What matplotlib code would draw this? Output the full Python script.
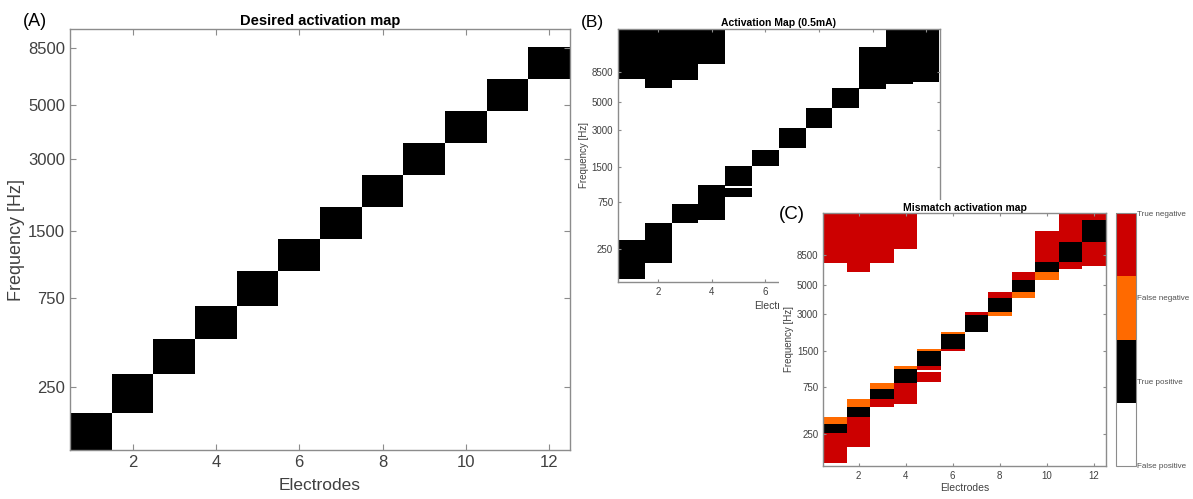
import numpy as np
import matplotlib
matplotlib.use('Agg')
import matplotlib.pyplot as plt
from matplotlib.colors import ListedColormap, Normalize
from matplotlib.cm import ScalarMappable

plt.rcParams['font.family'] = ['Liberation Sans', 'DejaVu Sans']

# frequency axis is drawn in cochlear place units (% of length, Greenwood map)
freq_ticks = [250, 750, 1500, 3000, 5000, 8500]
electrode_ticks = [2, 4, 6, 8, 10, 12]

# (A) desired band edges, one band per electrode 1..12
desired_edges = [6.2, 13.2, 20.5, 27.2, 33.4, 39.9, 45.9, 52.0, 58.0, 64.0, 70.0, 76.1, 82.1]

# (B) activated regions at 0.5 mA
act_elec = [1, 1, 2, 2, 3, 3, 4, 4, 5, 5, 6, 7, 8, 9, 10, 11, 12]
act_low = [7.4, 79.1, 13.2, 76.1, 27.4, 78.8, 28.5, 84.5, 36.7, 40.8, 48.0, 54.5, 61.8, 68.7, 75.6, 77.4, 78.2]
act_high = [21.4, 97.2, 27.6, 97.2, 34.2, 97.2, 41.1, 97.2, 39.9, 47.9, 53.9, 61.8, 68.9, 76.1, 90.8, 97.2, 97.2]

# (C) mismatch: 0 false positive, 1 true positive, 2 false negative, 3 true negative
mis_elec = [1, 1, 1, 1, 2, 2, 2, 2, 3, 3, 3, 3, 4, 4, 4, 4,
            5, 5, 5, 5, 6, 6, 6, 7, 7, 8, 8, 8, 9, 9, 9,
            10, 10, 10, 11, 11, 11, 12, 12, 12]
mis_low = [7.8, 18.4, 21.6, 79.1, 13.4, 24.3, 27.6, 75.9, 27.6, 30.5, 34.3, 78.9, 28.8, 36.4, 41.2, 84.1,
           36.7, 40.9, 42.3, 47.7, 47.8, 48.4, 53.7, 54.4, 60.4, 60.2, 61.7, 66.6, 66.6, 68.6, 72.9,
           72.9, 75.7, 79.3, 76.9, 79.4, 86.6, 78.0, 86.6, 94.3]
mis_high = [18.4, 21.6, 24.3, 96.7, 24.3, 27.6, 30.5, 96.7, 30.5, 34.3, 36.4, 96.7, 36.4, 41.2, 42.4, 96.7,
            40.2, 42.3, 47.7, 48.4, 48.4, 53.7, 54.4, 60.4, 61.5, 61.7, 66.6, 68.6, 68.6, 72.9, 75.8,
            75.7, 79.3, 90.4, 79.4, 86.6, 96.7, 86.6, 94.3, 96.7]
mis_class = [3, 1, 2, 3, 3, 1, 2, 3, 3, 1, 2, 3, 3, 1, 2, 3,
             3, 3, 1, 2, 3, 1, 2, 1, 3, 2, 1, 3, 2, 1, 3,
             2, 1, 3, 3, 1, 3, 3, 1, 3]
class_names = ['False positive', 'True positive', 'False negative', 'True negative']


def place(f):
    return 100 * np.log10(np.asarray(f) / 165.4 + 0.88) / 2.1


def style(ax, ylim, fs, ticklen):
    ax.set_xlim(0.5, 12.5)
    ax.set_ylim(*ylim)
    ax.set_xticks(electrode_ticks)
    ax.set_yticks(place(freq_ticks))
    ax.set_yticklabels([str(f) for f in freq_ticks])
    ax.tick_params(direction='in', top=True, right=True, labelsize=fs,
                   colors='#8c8c8c', labelcolor='#404040', length=ticklen, width=0.8)
    for s in ax.spines.values():
        s.set_color('#8c8c8c')
        s.set_linewidth(1.0)


fig = plt.figure(figsize=(11.93, 4.99), dpi=100)
W, H = 1193, 499


def box(l, t, r, b):
    return [l / W, 1 - b / H, (r - l) / W, (b - t) / H]


# ---- (A)
axA = fig.add_axes(box(70, 29.3, 570, 450.3))
axA.bar(np.arange(1, 13), np.diff(desired_edges), bottom=desired_edges[:-1], width=1,
        color='black', linewidth=0)
style(axA, (6.2, 85.4), 12, 4)
axA.set_title('Desired activation map', fontsize=10.5, fontweight='bold', pad=3)
axA.set_xlabel('Electrodes', fontsize=12.5, color='#404040', labelpad=6)
axA.set_ylabel('Frequency [Hz]', fontsize=13, color='#404040', labelpad=2)
fig.text(23 / W, 1 - 26 / H, '(A)', fontsize=13, va='baseline')

# ---- (B)
axB = fig.add_axes(box(618, 29, 939.5, 281.7), zorder=1)
axB.bar(act_elec, np.subtract(act_high, act_low), bottom=act_low, width=1,
        color='black', linewidth=0)
style(axB, (6.4, 97.2), 7, 2.5)
axB.set_title('Activation Map (0.5mA)', fontsize=7.5, fontweight='bold', pad=2)
axB.set_xlabel('Electrodes', fontsize=7.5, color='#404040', labelpad=3)
axB.set_ylabel('Frequency [Hz]', fontsize=7, color='#404040', labelpad=2)
fig.text(581 / W, 1 - 27 / H, '(B)', fontsize=12.5, va='baseline')

# white backdrop of the (C) inset
cover = fig.add_axes(box(779, 200, W, H), zorder=2)
cover.set_facecolor('white')
cover.set_xticks([])
cover.set_yticks([])
for s in cover.spines.values():
    s.set_visible(False)

# ---- (C)
colors = ['white', 'black', '#ff6a00', '#cc0000']
cmap = ListedColormap(colors)
norm = Normalize(0, 3)
axC = fig.add_axes(box(823.3, 213.3, 1105.7, 465.7), zorder=3)
axC.bar(mis_elec, np.subtract(mis_high, mis_low), bottom=mis_low, width=1,
        color=cmap(norm(np.array(mis_class))), linewidth=0)
style(axC, (6.85, 96.7), 7, 2.5)
axC.set_title('Mismatch activation map', fontsize=7.5, fontweight='bold', pad=2)
axC.set_xlabel('Electrodes', fontsize=7.5, color='#404040', labelpad=2)
axC.set_ylabel('Frequency [Hz]', fontsize=7, color='#404040', labelpad=2)
fig.text(779 / W, 1 - 219 / H, '(C)', fontsize=13.5, va='baseline', zorder=6)

cax = fig.add_axes(box(1116, 213.3, 1135.7, 465.7), zorder=3)
cb = fig.colorbar(ScalarMappable(norm=norm, cmap=cmap), cax=cax, ticks=[0, 1, 2, 3])
cb.ax.set_yticklabels(class_names)
cb.ax.tick_params(length=0, labelsize=5.8, labelcolor='#505050', pad=1)
cb.outline.set_edgecolor('#8c8c8c')
cb.outline.set_linewidth(0.8)

fig.savefig('out.png', dpi=100)
